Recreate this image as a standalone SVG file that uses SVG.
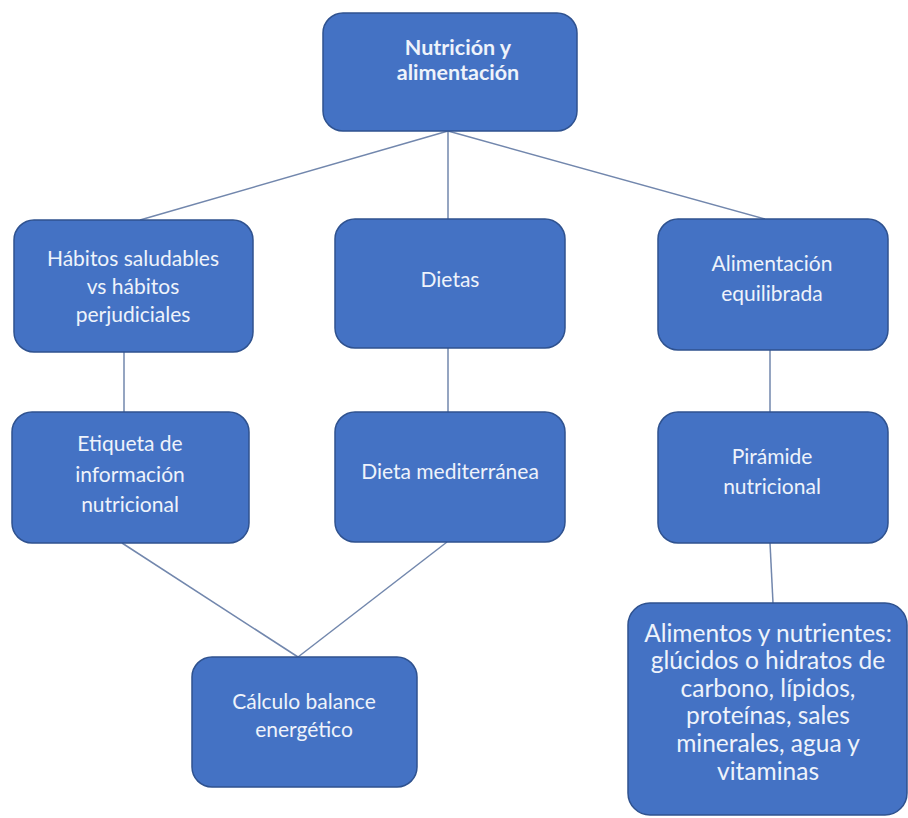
<svg xmlns="http://www.w3.org/2000/svg" width="908" height="818" viewBox="0 0 908 818">
<style>
.n{fill:#4472C4;stroke:#2F528F;stroke-width:1.5}
.t{font-family:Lato,"Open Sans","Liberation Sans",sans-serif;font-size:21px;fill:#eef3fb;text-anchor:middle;dominant-baseline:central}
.b{font-weight:bold;font-size:21.5px}
.l{font-size:24.5px}
.c line{stroke:#7287ad;stroke-width:1.5}
</style>
<rect width="908" height="818" fill="#ffffff"/>
<g class="c" id="connectors">
<line x1="448" y1="131" x2="140" y2="220"/>
<line x1="448" y1="131" x2="448" y2="219"/>
<line x1="448" y1="131" x2="765" y2="219"/>
<line x1="124" y1="352" x2="124" y2="412"/>
<line x1="448" y1="348" x2="448" y2="412"/>
<line x1="770" y1="350" x2="770" y2="412"/>
<line x1="770" y1="543" x2="773" y2="603"/>
<line x1="122" y1="543" x2="298" y2="657"/>
<line x1="447" y1="542" x2="298" y2="657"/>
</g>
<g id="n-nutricion">
<rect class="n" x="323" y="13" width="254" height="118" rx="20"/>
<text class="t b" x="458" y="47">Nutrición y</text>
<text class="t b" x="458" y="72">alimentación</text>
</g>
<g id="n-habitos">
<rect class="n" x="14" y="220" width="239" height="132" rx="20"/>
<text class="t" x="133" y="257">Hábitos saludables</text>
<text class="t" x="133" y="285">vs hábitos</text>
<text class="t" x="133" y="313">perjudiciales</text>
</g>
<g id="n-dietas">
<rect class="n" x="335" y="219" width="230" height="129" rx="20"/>
<text class="t" x="450" y="278">Dietas</text>
</g>
<g id="n-alimentacion">
<rect class="n" x="658" y="219" width="230" height="131" rx="20"/>
<text class="t" x="772" y="262">Alimentación</text>
<text class="t" x="772" y="292">equilibrada</text>
</g>
<g id="n-etiqueta">
<rect class="n" x="12" y="412" width="237" height="131" rx="20"/>
<text class="t" x="130" y="442">Etiqueta de</text>
<text class="t" x="130" y="473">información</text>
<text class="t" x="130" y="503">nutricional</text>
</g>
<g id="n-dietamed">
<rect class="n" x="335" y="412" width="230" height="130" rx="20"/>
<text class="t" x="450" y="470">Dieta mediterránea</text>
</g>
<g id="n-piramide">
<rect class="n" x="658" y="412" width="230" height="131" rx="20"/>
<text class="t" x="772" y="455">Pirámide</text>
<text class="t" x="772" y="485">nutricional</text>
</g>
<g id="n-calculo">
<rect class="n" x="192" y="657" width="225" height="130" rx="20"/>
<text class="t" x="304" y="700">Cálculo balance</text>
<text class="t" x="304" y="728">energético</text>
</g>
<g id="n-alimentos">
<rect class="n" x="628" y="603" width="279" height="212" rx="22"/>
<text class="t l" x="768" y="632">Alimentos y nutrientes:</text>
<text class="t l" x="768" y="659">glúcidos o hidratos de</text>
<text class="t l" x="768" y="687">carbono, lípidos,</text>
<text class="t l" x="768" y="714">proteínas, sales</text>
<text class="t l" x="768" y="742">minerales, agua y</text>
<text class="t l" x="768" y="770">vitaminas</text>
</g>
</svg>
